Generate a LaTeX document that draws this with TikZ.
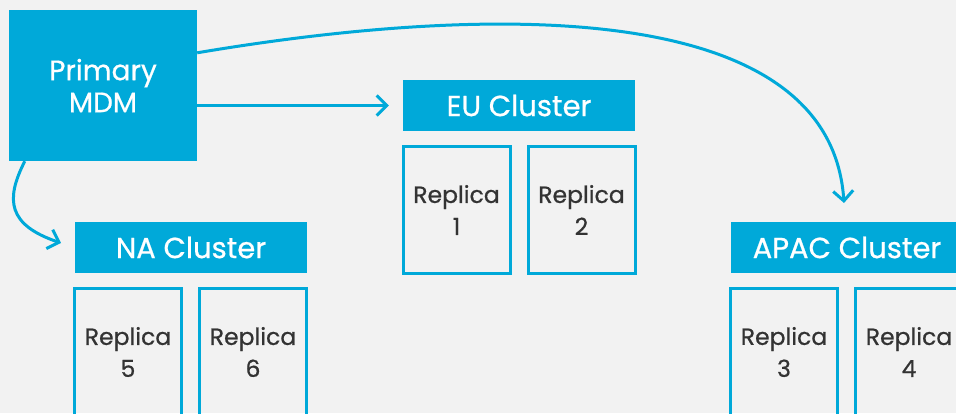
\documentclass[tikz,border=0pt]{standalone}
\usepackage{fontspec}
\setmainfont{Poppins}[FakeBold=0.7]
\usetikzlibrary{arrows.meta}
\definecolor{brandblue}{HTML}{00A9D9}
\definecolor{bgray}{HTML}{F2F2F2}
\definecolor{txtdark}{HTML}{333333}
\tikzset{
  bar/.style={fill=brandblue, draw=none, text=white, minimum width=232pt, minimum height=51pt,
    inner sep=0pt, font=\fontsize{29}{32}\selectfont},
  replica/.style={draw=brandblue, line width=3pt, fill=none, text=txtdark, minimum width=107pt,
    minimum height=127pt, inner sep=0pt, align=center, font=\fontsize{23.5}{32}\selectfont},
  master/.style={fill=brandblue, draw=none, text=white, minimum width=188pt, minimum height=151pt,
    inner sep=0pt, align=center, font=\fontsize{28}{32}\selectfont},
  link/.style={draw=brandblue, line width=3pt, -{Straight Barb[length=10pt,width=20pt]}}
}
\begin{document}
\begin{tikzpicture}[x=1pt, y=-1pt]
  \useasboundingbox (0,0) rectangle (956,413);
  \fill[bgray] (0,0) rectangle (956,413);
  \clip (0,0) rectangle (956,413);

  % primary node
  \node[master] (mdm) at (103,85.5) {Primary\\MDM};

  % clusters
  \node[bar] (eu) at (519,105.5) {EU Cluster};
  \node[bar] (na) at (191,247.5) {NA Cluster};
  \node[bar] (apac) at (847,247.5) {APAC Cluster};

  % replicas
  \node[replica] (r1) at (456.5,210) {Replica\\1};
  \node[replica] (r2) at (581.5,210) {Replica\\2};
  \node[replica] (r5) at (128,352) {Replica\\5};
  \node[replica] (r6) at (253,352) {Replica\\6};
  \node[replica] (r3) at (784,352) {Replica\\3};
  \node[replica] (r4) at (909,352) {Replica\\4};

  % connector end points
  \coordinate (euin) at ([xshift=-14pt]eu.west);
  \coordinate (nain) at (61,243);
  \coordinate (apacin) at (844,203);

  % replication links
  \draw[link] (mdm.east |- eu.west) -- (euin);
  \draw[link] ([yshift=-43pt]mdm.north east) .. controls (480,5) and (830,-5) .. (apacin);
  \draw[link] ([xshift=16pt]mdm.south west) .. controls (5,200) and (8,225) .. (nain);
\end{tikzpicture}
\end{document}
